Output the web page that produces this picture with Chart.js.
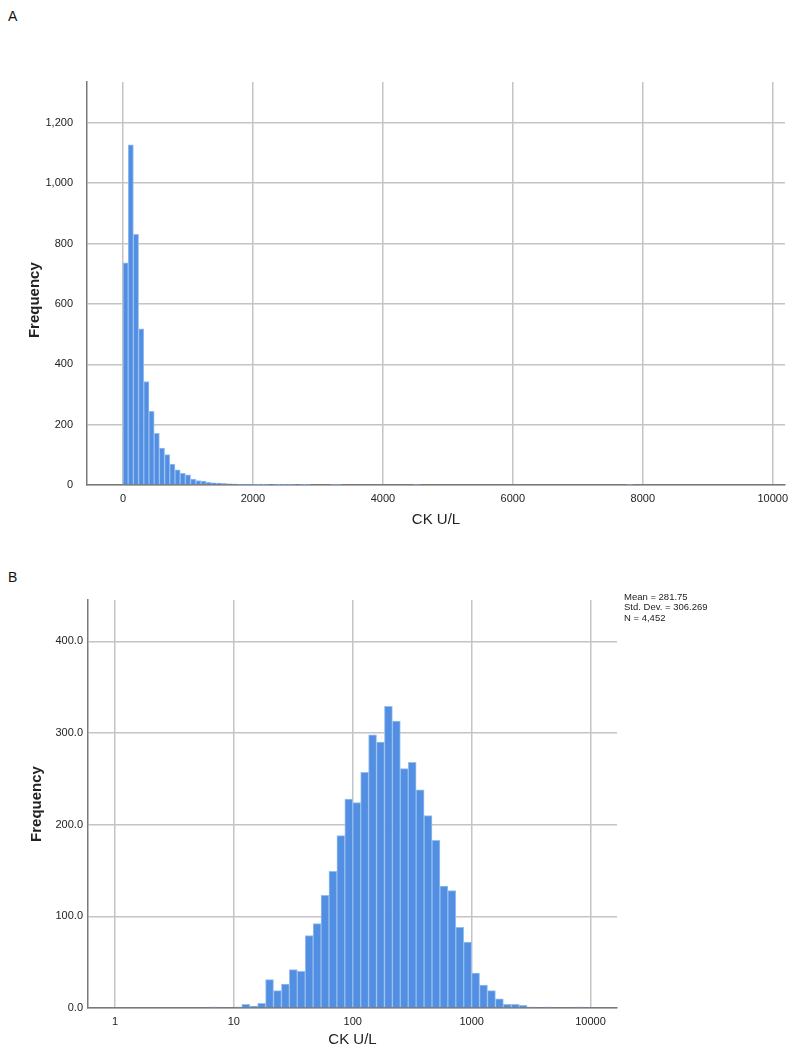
<!DOCTYPE html>
<html>
<head>
<meta charset="utf-8">
<script src="https://cdn.jsdelivr.net/npm/chart.js@4.4.1/dist/chart.umd.min.js"></script>
<style>
  body { margin: 0; background: #fff; width: 800px; height: 1061px; position: relative; overflow: hidden; }
  .panel-label { position: absolute; left: 8px; font: 14px "Liberation Sans", Arial, sans-serif; color: #111; }
  canvas { position: absolute; left: 0; }
</style>
</head>
<body>
<div class="panel-label" style="top:8px">A</div>
<div class="panel-label" style="top:569px">B</div>
<canvas id="chart-a" width="800" height="545" style="top:0"></canvas>
<canvas id="chart-b" width="800" height="501" style="top:560px"></canvas>
<script>
// Panel A: linear bins of 80 U/L starting at 0
const BIN_WIDTH_A = 80;
const countsA = [
  736, 1127, 830, 517, 343, 244, 171, 122, 101, 69, 50, 39, 34, 20, 15, 13, 9, 7, 6, 5,
  4, 3, 2, 2, 2, 1, 1, 1, 0, 1, 1, 1, 1, 0, 1, 1, 0, 0, 0, 0,
  1, 1, 0, 0, 0, 0, 0, 0, 0, 0, 0, 0, 0, 0, 0, 0, 1, 0, 0, 0,
  0, 0, 0, 0, 0, 0, 0, 0, 0, 0, 0, 0, 0, 0, 0, 0, 0, 0, 0, 0,
  0, 0, 0, 0, 0, 0, 0, 0, 0, 0, 0, 0, 0, 0, 0, 0, 0, 1, 0, 0
];
const xTicksA = [0, 2000, 4000, 6000, 8000, 10000];
const yTicksA = [0, 200, 400, 600, 800, 1000, 1200];

// Panel B: log bins, 15 per decade starting at 1 U/L
const BINS_PER_DECADE_B = 15;
const countsB = [
  0, 0, 0, 0, 0, 0, 0, 0, 0, 0, 0, 0, 1, 0, 0, 1, 4, 2, 5, 31,
  19, 26, 42, 40, 79, 92, 123, 149, 188, 228, 224, 257, 298, 290, 329, 313, 261, 268, 238, 210,
  183, 133, 128, 88, 72, 38, 25, 19, 10, 4, 4, 3, 1, 0, 1, 0, 0, 0, 1
];
const xTicksB = [1, 10, 100, 1000, 10000];
const yTicksB = [0, 100, 200, 300, 400];
const statsLines = ["Mean = 281.75", "Std. Dev. = 306.269", "N = 4,452"];

const FONT = "'Liberation Sans', Arial, sans-serif";
const BAR_FILL = "rgb(82, 142, 226)";
const BAR_EDGE = "rgb(150, 190, 240)";
const GRID = "#c4c4c4";
const AXIS = "#7a7a7a";

Chart.defaults.font.family = FONT;
Chart.defaults.color = "#222";

function fixedTicks(values) {
  return (scale) => { scale.ticks = values.map((v) => ({ value: v })); };
}

function baseScale(extra) {
  return Object.assign({
    grid: { color: GRID, lineWidth: 1.5, drawTicks: false, offset: false },
    border: { color: AXIS, width: 1.5 },
  }, extra);
}

const dataA = countsA.map((c, i) => ({ x: i * BIN_WIDTH_A + BIN_WIDTH_A / 2, y: c > 0 ? c : null }));

new Chart(document.getElementById("chart-a"), {
  type: "bar",
  data: {
    datasets: [{
      data: dataA,
      backgroundColor: BAR_FILL,
      borderColor: BAR_EDGE,
      borderWidth: 1,
      barPercentage: 1,
      categoryPercentage: 1,
    }],
  },
  options: {
    responsive: false,
    animation: false,
    devicePixelRatio: 1,
    layout: { padding: { top: 82, right: 15, left: 0, bottom: 0 } },
    plugins: { legend: { display: false }, tooltip: { enabled: false } },
    scales: {
      x: baseScale({
        type: "linear",
        offset: false,
        min: -554,
        max: 10189,
        afterBuildTicks: fixedTicks(xTicksA),
        afterFit: (scale) => { scale.height = 60; },
        ticks: { padding: 7, font: { size: 11 }, callback: (v) => String(v) },
        title: { display: true, text: "CK U/L", font: { size: 15 }, padding: { top: 0, bottom: 16 } },
      }),
      y: baseScale({
        min: 0,
        max: 1335,
        afterBuildTicks: fixedTicks(yTicksA),
        afterFit: (scale) => { scale.width = 87; },
        ticks: { padding: 14, font: { size: 11 }, callback: (v) => v.toLocaleString("en-US") },
        // trailing spaces push the label a little lower, like the original
        title: { display: true, text: "Frequency        ", font: { size: 15, weight: "bold" }, padding: { top: 26, bottom: 0 } },
      }),
    },
  },
});

const dataB = countsB.map((c, k) => ({
  x: Math.pow(10, (k + 0.5) / BINS_PER_DECADE_B),
  y: c > 0 ? c : null,
}));

const statsPlugin = {
  id: "stats",
  afterDraw(chart) {
    const ctx = chart.ctx;
    ctx.save();
    ctx.font = "9.5px " + FONT;
    ctx.fillStyle = "#222";
    ctx.textBaseline = "middle";
    statsLines.forEach((line, i) => ctx.fillText(line, 624, 37 + i * 10.5));
    ctx.restore();
  },
};

new Chart(document.getElementById("chart-b"), {
  type: "bar",
  data: {
    datasets: [{
      data: dataB,
      backgroundColor: BAR_FILL,
      borderColor: BAR_EDGE,
      borderWidth: 1,
      barPercentage: 1,
      categoryPercentage: 1,
    }],
  },
  options: {
    responsive: false,
    animation: false,
    devicePixelRatio: 1,
    layout: { padding: { top: 40, right: 183, left: 0, bottom: 0 } },
    plugins: { legend: { display: false }, tooltip: { enabled: false } },
    scales: {
      x: baseScale({
        type: "logarithmic",
        offset: false,
        min: 0.593,
        max: 16700,
        afterBuildTicks: fixedTicks(xTicksB),
        afterFit: (scale) => { scale.height = 53; },
        ticks: { padding: 7, font: { size: 11 }, callback: (v) => String(v) },
        title: { display: true, text: "CK U/L", font: { size: 15 }, padding: { top: 0, bottom: 12 } },
      }),
      y: baseScale({
        min: 0,
        max: 445,
        afterBuildTicks: fixedTicks(yTicksB),
        afterFit: (scale) => { scale.width = 88; },
        ticks: { padding: 5, font: { size: 11 }, callback: (v) => v.toFixed(1) },
        title: { display: true, text: "Frequency", font: { size: 15, weight: "bold" }, padding: { top: 28, bottom: 0 } },
      }),
    },
  },
  plugins: [statsPlugin],
});
</script>
</body>
</html>
